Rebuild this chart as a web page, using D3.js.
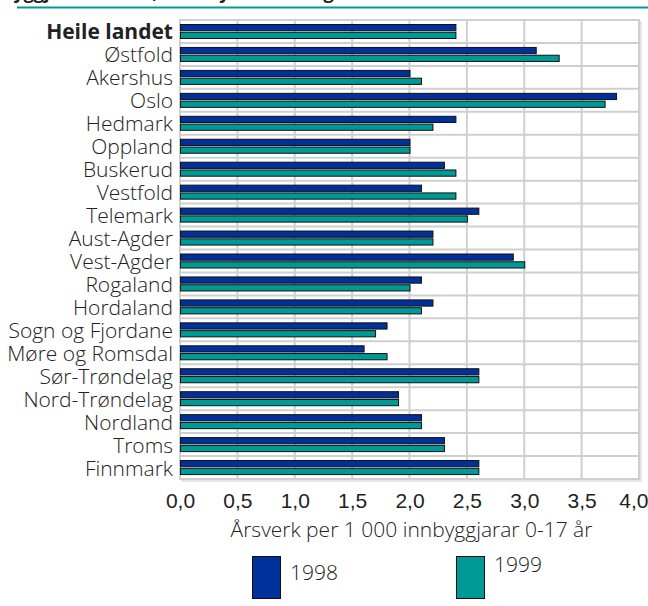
<!DOCTYPE html>
<html>
<head>
<meta charset="utf-8">
<script src="https://cdn.jsdelivr.net/npm/d3@7"></script>
<style>
  html, body { margin: 0; padding: 0; background: #fff; }
  svg { display: block; font-family: "Open Sans", "Noto Sans", sans-serif; }
  .lbl { font-size: 21px; font-weight: 300; fill: #222; }
  .lbl--bold { font-weight: 700; }
  .tick text { font-size: 21px; font-weight: 300; fill: #222; }
</style>
</head>
<body>
<svg id="chart" width="648" height="606"></svg>
<script>
const fylke = ['Heile landet', 'Østfold', 'Akershus', 'Oslo', 'Hedmark', 'Oppland', 'Buskerud',
  'Vestfold', 'Telemark', 'Aust-Agder', 'Vest-Agder', 'Rogaland', 'Hordaland', 'Sogn og Fjordane',
  'Møre og Romsdal', 'Sør-Trøndelag', 'Nord-Trøndelag', 'Nordland', 'Troms', 'Finnmark']
const aar = ['1998', '1999']
const verdi1998 = [2.4, 3.1, 2.0, 3.8, 2.4, 2.0, 2.3, 2.1, 2.6, 2.2, 2.9, 2.1, 2.2, 1.8, 1.6, 2.6, 1.9, 2.1, 2.3, 2.6]
const verdi1999 = [2.4, 3.3, 2.1, 3.7, 2.2, 2.0, 2.4, 2.4, 2.5, 2.2, 3.0, 2.0, 2.1, 1.7, 1.8, 2.6, 1.9, 2.1, 2.3, 2.6]
const ticks = [0, 0.5, 1, 1.5, 2, 2.5, 3, 3.5, 4]
const tittel = 'byggjarar 0-17 år, etter fylke. 1998 og 1999'
const aksetittel = 'Årsverk per 1 000 innbyggjarar 0-17 år'

const BLUE = '#00319a'
const TEAL = '#009a96'
const color = {'1998': BLUE, '1999': TEAL}
const GRID = '#cfcfcf'

const svg = d3.select('#chart')

const x = d3.scaleLinear().domain([0, 4]).range([180, 639])
const y = d3.scaleBand().domain(fylke).range([20, 479])
const ySub = d3.scaleBand().domain(aar).range([4.5, 18.5]).paddingInner(0.2)

const rows = fylke.map((name, i) => ({name, values: [
  {aar: '1998', v: verdi1998[i]},
  {aar: '1999', v: verdi1999[i]}
]}))

// title remnant (cut off at the top edge) and rule
svg.append('text')
  .attr('x', 2).attr('y', -1)
  .style('font-size', '18px').style('font-weight', 700).style('fill', '#222')
  .text(tittel)
svg.append('line')
  .attr('x1', 17).attr('x2', 648).attr('y1', 7.5).attr('y2', 7.5)
  .attr('stroke', TEAL).attr('stroke-width', 2)

// grid
const grid = svg.append('g')
grid.selectAll('.vgrid').data(ticks.slice(1, -1)).enter()
  .append('line')
    .attr('x1', (d) => x(d)).attr('x2', (d) => x(d))
    .attr('y1', y.range()[0]).attr('y2', y.range()[1])
    .attr('stroke', GRID).attr('stroke-width', 2)
grid.selectAll('.hgrid').data(fylke.slice(1)).enter()
  .append('line')
    .attr('x1', x(0)).attr('x2', x(4))
    .attr('y1', (d) => y(d)).attr('y2', (d) => y(d))
    .attr('stroke', GRID).attr('stroke-width', 2)
grid.append('rect')
  .attr('x', x(0)).attr('y', y.range()[0])
  .attr('width', x(4) - x(0)).attr('height', y.range()[1] - y.range()[0])
  .attr('fill', 'none').attr('stroke', GRID).attr('stroke-width', 2)
grid.append('path')
  .attr('d', `M${x(0) + 1},${y.range()[1] + 2}H${x(4) + 2}V${y.range()[0] + 1}`)
  .attr('fill', 'none').attr('stroke', '#e6e6e6').attr('stroke-width', 2)

// bars
const groups = svg.selectAll('.row').data(rows).enter()
  .append('g')
    .attr('class', 'row')
    .attr('transform', (d) => `translate(0,${y(d.name)})`)

groups.selectAll('rect').data((d) => d.values).enter()
  .append('rect')
    .attr('x', x(0) + 0.5)
    .attr('y', (d) => ySub(d.aar))
    .attr('width', (d) => x(d.v) - x(0))
    .attr('height', ySub.bandwidth())
    .attr('fill', (d) => color[d.aar])
    .attr('stroke', '#111').attr('stroke-width', 1)

// category labels
svg.selectAll('.lbl').data(fylke).enter()
  .append('text')
    .attr('class', (d, i) => i === 0 ? 'lbl lbl--bold' : 'lbl')
    .attr('x', 173)
    .attr('y', (d) => y(d) + y.bandwidth() / 2 + 8)
    .attr('text-anchor', 'end')
    .text((d) => d)

// x axis
const axis = svg.append('g')
  .attr('transform', `translate(0,${y.range()[1]})`)
  .call(d3.axisBottom(x).tickValues(ticks).tickSize(0).tickPadding(14)
    .tickFormat((d) => d3.format('.1f')(d).replace('.', ',')))
axis.select('.domain').remove()
axis.selectAll('.tick text').attr('font-family', null).attr('font-size', null)
axis.selectAll('.tick').filter((d) => d === 4).select('text')
  .attr('text-anchor', 'end').attr('dx', 9)

svg.append('text')
  .attr('class', 'lbl')
  .attr('x', (x(0) + x(4)) / 2 + 2).attr('y', 537)
  .attr('text-anchor', 'middle')
  .text(aksetittel)

// legend
const legendPos = {'1998': {x: 252, ty: 580}, '1999': {x: 456, ty: 572}}
const legend = svg.selectAll('.legend').data(aar).enter()
  .append('g')
    .attr('class', 'legend')
    .attr('transform', (d) => `translate(${legendPos[d].x},0)`)
legend.append('rect')
  .attr('x', 0.5).attr('y', 556.5).attr('width', 28).attr('height', 42)
  .attr('fill', (d) => color[d]).attr('stroke', '#111').attr('stroke-width', 1)
legend.append('text')
  .attr('class', 'lbl')
  .attr('x', 38).attr('y', (d) => legendPos[d].ty)
  .text((d) => d)
</script>
</body>
</html>
